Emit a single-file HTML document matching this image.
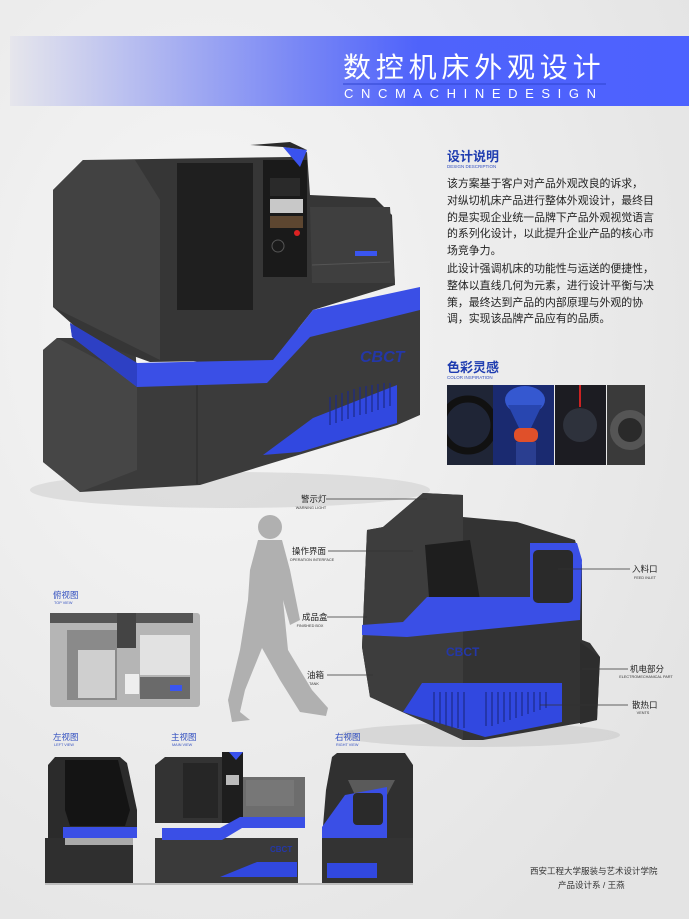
<!DOCTYPE html>
<html><head><meta charset="utf-8"><style>
html,body{margin:0;padding:0}
body{width:689px;height:919px;overflow:hidden;background:#e9e9e9;font-family:"Liberation Sans","Noto Sans CJK SC",sans-serif;position:relative}
.t{position:absolute;white-space:nowrap}
.p{position:absolute;left:447px;font-size:10.9px;color:#222;line-height:16.8px;white-space:nowrap}
</style></head><body>
<svg width="689" height="919" style="position:absolute;left:0;top:0">
<defs>
<linearGradient id="bn" x1="0" x2="1"><stop offset="0" stop-color="#e6e6ec"/><stop offset="0.42" stop-color="#7a88f5"/><stop offset="0.6" stop-color="#4f63fb"/><stop offset="1" stop-color="#4d62ff"/></linearGradient>
<radialGradient id="bg" cx="0.3" cy="0.35" r="0.8"><stop offset="0" stop-color="#f6f6f6"/><stop offset="1" stop-color="#e4e4e4"/></radialGradient>
<clipPath id="c1"><rect x="447" y="385" width="46" height="80"/></clipPath>
<clipPath id="c4"><rect x="607" y="385" width="38" height="80"/></clipPath>
</defs>
<rect width="689" height="919" fill="url(#bg)"/>
<rect x="10" y="36" width="679" height="70" fill="url(#bn)"/>
<line x1="343" y1="84" x2="606" y2="84" stroke="#2f44d0" stroke-width="1"/>

<!-- main machine -->
<ellipse cx="230" cy="490" rx="200" ry="18" fill="#d0d0d0" opacity="0.6"/>
<polygon points="43,350 57,338 135,338 137,380 420,290 420,415 397,425 200,485 80,492 43,462" fill="#3b3b3b"/>
<polygon points="43,350 57,338 137,380 137,470 80,492 43,462" fill="#464646"/>
<line x1="197" y1="372" x2="197" y2="484" stroke="#2a2a2a"/>
<polygon points="263,455 313,418 397,385 397,423 300,452" fill="#3148e0"/>
<g stroke="#1d2a88" stroke-width="1.2">
<line x1="330" y1="397" x2="330" y2="425"/><line x1="336" y1="395" x2="336" y2="423"/><line x1="342" y1="393" x2="342" y2="421"/><line x1="348" y1="391" x2="348" y2="419"/><line x1="354" y1="389" x2="354" y2="417"/><line x1="360" y1="387" x2="360" y2="415"/><line x1="366" y1="386" x2="366" y2="414"/><line x1="372" y1="385" x2="372" y2="412"/><line x1="378" y1="384" x2="378" y2="410"/><line x1="384" y1="383" x2="384" y2="408"/><line x1="390" y1="383" x2="390" y2="406"/></g>
<polygon points="53,190 83,160 290,157 307,152 310,195 375,198 392,215 395,285 313,310 273,360 150,362 90,340 53,307" fill="#363636"/>
<polygon points="53,190 83,160 135,160 160,200 160,360 53,307" fill="#424242"/>
<polygon points="177,163 253,163 253,310 177,310" fill="#1f1f1f"/>
<polygon points="263,160 307,160 307,277 263,277" fill="#1a1a1a"/>
<rect x="270" y="178" width="30" height="18" fill="#2a2a2a"/>
<rect x="270" y="199" width="33" height="14" fill="#c8c8c8"/>
<rect x="270" y="216" width="33" height="12" fill="#7a5a3a" opacity="0.7"/>
<circle cx="297" cy="233" r="3" fill="#d22"/>
<circle cx="278" cy="246" r="6" fill="none" stroke="#555"/>
<polygon points="310,207 390,207 395,283 312,283" fill="#3f3f3f"/>
<rect x="355" y="251" width="22" height="5" fill="#3a55f0"/>
<line x1="312" y1="265" x2="390" y2="262" stroke="#555"/>
<polygon points="283,147 307,150 300,167" fill="#3a52ee"/>
<polygon points="250,145 290,142 307,150 283,147" fill="#2a2a2a"/>
<polygon points="70,323 137,363 273,360 313,310 420,287 420,310 310,337 267,383 137,387 72,337" fill="#3a4fe6"/>
<polygon points="70,323 137,363 137,387 72,337" fill="#2d40c4"/>
<text x="360" y="362" font-size="16" font-weight="bold" fill="#2437a8" font-style="italic">CBCT</text>

<!-- text section -->
<text x="447" y="161" font-size="13" font-weight="bold" fill="#1f3db0" font-family="Liberation Sans,Noto Sans CJK SC,sans-serif">设计说明</text>
<text x="447" y="168" font-size="4.5" fill="#3350c0">DESIGN DESCRIPTION</text>
<text x="447" y="372" font-size="13" font-weight="bold" fill="#1f3db0" font-family="Liberation Sans,Noto Sans CJK SC,sans-serif">色彩灵感</text>
<text x="447" y="379" font-size="4.5" fill="#3350c0">COLOR INSPIRATION</text>
<rect x="447" y="385" width="46" height="80" fill="#1f2536"/>
<circle cx="468" cy="425" r="26" fill="none" stroke="#111" stroke-width="7" clip-path="url(#c1)"/>
<rect x="493" y="385" width="61" height="80" fill="#1a2a70"/>
<ellipse cx="525" cy="400" rx="20" ry="14" fill="#3558d0"/>
<polygon points="508,405 542,405 530,430 520,430" fill="#2846b0"/>
<rect x="514" y="428" width="24" height="14" rx="6" fill="#e0502a"/>
<rect x="516" y="442" width="20" height="23" fill="#2a3e90"/>
<rect x="555" y="385" width="51" height="80" fill="#1c1c22"/>
<line x1="580" y1="385" x2="580" y2="407" stroke="#c22" stroke-width="2"/>
<circle cx="580" cy="425" r="17" fill="#2e323c"/>
<rect x="607" y="385" width="38" height="80" fill="#3a3a3a"/>
<g clip-path="url(#c4)"><circle cx="630" cy="430" r="20" fill="#555"/><circle cx="630" cy="430" r="12" fill="#2a2a2a"/></g>

<!-- person -->
<g fill="#b0b0b0">
<circle cx="270" cy="527" r="12"/>
<path d="M258,540 L282,540 L290,570 L300,620 L290,625 L283,600 L288,650 L312,690 L328,708 L326,716 L300,712 L280,680 L262,648 L245,690 L240,712 L250,720 L232,722 L228,700 L240,650 L248,600 L250,570 Z"/>
</g>

<!-- second machine -->
<ellipse cx="480" cy="735" rx="140" ry="12" fill="#cfcfcf" opacity="0.7"/>
<polygon points="383,527 423,493 463,495 463,517 517,522 575,540 582,565 582,640 590,643 600,657 597,720 483,740 463,740 370,697 362,647 367,530" fill="#333"/>
<polygon points="383,527 423,493 463,495 463,740 370,697 362,647 367,530" fill="#3d3d3d"/>
<polygon points="580,642 600,657 597,720 580,724" fill="#2d2d2d"/>
<polygon points="425,545 470,540 480,600 430,610" fill="#1e1e1e"/>
<polygon points="362,625 403,622 427,597 530,597 530,543 577,543 582,560 580,620 407,637 362,635" fill="#3a4fe6"/>
<rect x="533" y="550" width="40" height="53" rx="5" fill="#2a2a2a"/>
<polygon points="403,712 422,683 562,683 562,722 485,737" fill="#3148e0"/>
<g stroke="#1d2a88" stroke-width="1.2">
<line x1="434" y1="692" x2="434" y2="722"/><line x1="440" y1="692" x2="440" y2="724"/><line x1="446" y1="692" x2="446" y2="726"/><line x1="452" y1="692" x2="452" y2="728"/><line x1="458" y1="692" x2="458" y2="728"/><line x1="464" y1="692" x2="464" y2="728"/><line x1="486" y1="692" x2="486" y2="726"/><line x1="492" y1="692" x2="492" y2="726"/><line x1="498" y1="692" x2="498" y2="724"/><line x1="504" y1="692" x2="504" y2="722"/><line x1="510" y1="692" x2="510" y2="720"/><line x1="516" y1="692" x2="516" y2="718"/><line x1="522" y1="692" x2="522" y2="716"/><line x1="528" y1="692" x2="528" y2="714"/><line x1="534" y1="692" x2="534" y2="712"/><line x1="540" y1="692" x2="540" y2="710"/><line x1="546" y1="692" x2="546" y2="708"/></g>
<text x="446" y="656" font-size="12" font-weight="bold" fill="#2437a8">CBCT</text>

<!-- callouts -->
<g stroke="#333" stroke-width="0.8">
<line x1="326" y1="499" x2="427" y2="499"/><line x1="328" y1="551" x2="413" y2="551"/>
<line x1="327" y1="617" x2="367" y2="617"/><line x1="327" y1="675" x2="373" y2="675"/>
<line x1="558" y1="569" x2="630" y2="569"/><line x1="582" y1="669" x2="628" y2="669"/>
<line x1="540" y1="705" x2="628" y2="705"/></g>
<g font-size="8.5" fill="#222" font-family="Liberation Sans,Noto Sans CJK SC,sans-serif">
<text x="301" y="502">警示灯</text><text x="292" y="554">操作界面</text><text x="302" y="620">成品盒</text><text x="307" y="678">油箱</text>
<text x="632" y="572">入料口</text><text x="630" y="672">机电部分</text><text x="632" y="708">散热口</text></g>
<g font-size="3.8" fill="#333" text-anchor="middle">
<text x="311" y="509">WARNING LIGHT</text><text x="312" y="561">OPERATION INTERFACE</text><text x="310" y="627">FINISHED BOX</text><text x="314" y="685">TANK</text>
<text x="645" y="579">FEED INLET</text><text x="646" y="678">ELECTROMECHANICAL PART</text><text x="643" y="714">VENTS</text></g>

<!-- view labels -->
<g font-size="8.5" fill="#3350c0" font-family="Liberation Sans,Noto Sans CJK SC,sans-serif">
<text x="53" y="598">俯视图</text><text x="53" y="740">左视图</text><text x="171" y="740">主视图</text><text x="335" y="740">右视图</text></g>
<g font-size="3.8" fill="#3350c0">
<text x="54" y="604">TOP VIEW</text><text x="54" y="746">LEFT VIEW</text><text x="172" y="746">MAIN VIEW</text><text x="336" y="746">RIGHT VIEW</text></g>

<!-- top view -->
<rect x="50" y="613" width="150" height="94" rx="3" fill="#b5b5b5"/>
<rect x="50" y="613" width="143" height="10" fill="#555"/>
<rect x="117" y="613" width="19" height="35" fill="#444"/>
<rect x="67" y="630" width="50" height="70" fill="#8a8a8a"/>
<rect x="78" y="650" width="37" height="48" fill="#cfcfcf"/>
<rect x="140" y="635" width="50" height="40" fill="#e2e2e2"/>
<rect x="140" y="677" width="50" height="22" fill="#6a6a6a"/>
<rect x="170" y="685" width="12" height="6" fill="#3a55f0"/>
<rect x="125" y="674" width="14" height="20" fill="#eee"/>

<!-- left view -->
<rect x="45" y="838" width="88" height="45" fill="#2f2f2f"/>
<polygon points="48,765 55,757 120,757 127,763 137,810 137,838 48,838" fill="#2b2b2b"/>
<polygon points="65,760 118,760 130,810 125,826 70,826 65,810" fill="#141414"/>
<rect x="63" y="827" width="74" height="11" fill="#3a4fe6"/>
<rect x="65" y="838" width="68" height="7" fill="#aaa"/>
<!-- main view -->
<rect x="155" y="838" width="143" height="45" fill="#3a3a3a"/>
<polygon points="155,765 165,757 222,757 222,823 155,823" fill="#333"/>
<rect x="183" y="763" width="35" height="55" fill="#262626"/>
<rect x="222" y="752" width="21" height="71" fill="#1e1e1e"/>
<rect x="226" y="775" width="13" height="10" fill="#bbb"/>
<polygon points="229,752 243,752 236,760" fill="#3a52ee"/>
<rect x="243" y="777" width="62" height="46" fill="#6d6d6d"/>
<rect x="246" y="780" width="48" height="26" fill="#777"/>
<polygon points="162,828 220,828 240,817 305,817 305,828 242,828 222,840 162,840" fill="#3a4fe6"/>
<polygon points="220,877 257,862 297,862 297,877" fill="#3148e0"/>
<text x="270" y="852" font-size="8" font-weight="bold" fill="#2437a8">CBCT</text>
<!-- right view -->
<rect x="322" y="838" width="91" height="45" fill="#333"/>
<polygon points="332,757 337,753 405,753 413,765 413,838 322,838 326,790" fill="#303030"/>
<polygon points="348,780 395,780 387,795 355,795" fill="#5a5a5a"/>
<polygon points="322,827 345,795 387,787 387,838 322,838" fill="#3a4fe6"/>
<rect x="353" y="793" width="30" height="32" rx="4" fill="#2a2a2a"/>
<rect x="327" y="863" width="50" height="15" fill="#3148e0"/>
<line x1="45" y1="884" x2="413" y2="884" stroke="#bdbdbd" stroke-width="2"/>
</svg>

<div class="t" style="left:343px;top:46px;font-size:28px;letter-spacing:4.8px;color:#fff;font-family:'Liberation Sans','Noto Sans CJK SC',sans-serif">数控机床外观设计</div>
<div class="t" style="left:344px;top:86px;font-size:13px;letter-spacing:7.6px;color:#fff">CNCMACHINEDESIGN</div>

<div class="p" style="top:176px"> 该方案基于客户对产品外观改良的诉求，<br>对纵切机床产品进行整体外观设计，最终目<br>的是实现企业统一品牌下产品外观视觉语言<br>的系列化设计，以此提升企业产品的核心市<br>场竞争力。</div>
<div class="p" style="top:261px">此设计强调机床的功能性与运送的便捷性，<br>整体以直线几何为元素，进行设计平衡与决<br>策，最终达到产品的内部原理与外观的协<br>调，实现该品牌产品应有的品质。</div>

<div class="t" style="left:530px;top:865px;font-size:8.5px;color:#333">西安工程大学服装与艺术设计学院</div>
<div class="t" style="left:558px;top:879px;font-size:8.5px;color:#333">产品设计系 / 王燕</div>
</body></html>
